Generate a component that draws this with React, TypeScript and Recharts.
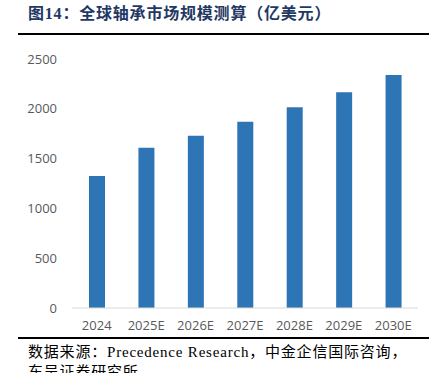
import React from "react";
import { BarChart, Bar, XAxis, YAxis, CartesianGrid } from "recharts";

const years = ["2024", "2025E", "2026E", "2027E", "2028E", "2029E", "2030E"];
const marketSize = [1325, 1610, 1730, 1870, 2015, 2165, 2340];
const yTicks = [0, 500, 1000, 1500, 2000, 2500];

const data = years.map((year, i) => ({ year, value: marketSize[i] }));

const tickStyle = { fill: "#595959", fontSize: 13, fontFamily: "'Open Sans', sans-serif" };

const App: React.FC = () => {
  return (
    <div
      style={{
        position: "absolute",
        left: 0,
        top: 0,
        width: 438,
        height: 373,
        overflow: "hidden",
        background: "#fff",
      }}
    >
      <div
        style={{
          position: "absolute",
          left: 28,
          top: 4,
          fontSize: 16,
          fontWeight: 700,
          color: "#1f3864",
          fontFamily: "'Liberation Serif', 'Noto Sans CJK SC', serif",
          whiteSpace: "nowrap",
          lineHeight: "20px",
          letterSpacing: 0.8,
        }}
      >
        图14：全球轴承市场规模测算（亿美元）
      </div>
      <div style={{ position: "absolute", left: 18, top: 33, width: 411, height: 2, background: "#000" }} />

      <div style={{ position: "absolute", left: 0, top: 40 }}>
        <BarChart
          width={438}
          height={300}
          data={data}
          margin={{ top: 19, right: 20, bottom: 2, left: 0 }}
          barSize={16}
        >
          <CartesianGrid vertical={false} horizontal={false} />
          <XAxis
            dataKey="year"
            height={30}
            tickLine={false}
            axisLine={{ stroke: "#d9d9d9" }}
            tick={tickStyle}
            tickMargin={7}
            interval={0}
          />
          <YAxis
            width={72}
            domain={[0, 2500]}
            ticks={yTicks}
            axisLine={false}
            tickLine={false}
            tick={tickStyle}
            tickMargin={9}
          />
          <Bar dataKey="value" fill="#2e75b6" isAnimationActive={false} />
        </BarChart>
      </div>

      <div style={{ position: "absolute", left: 18, top: 337, width: 411, height: 2, background: "#000" }} />
      <div
        style={{
          position: "absolute",
          left: 28,
          top: 342,
          fontSize: 15,
          color: "#000",
          fontFamily: "'Liberation Serif', 'Noto Sans CJK SC', serif",
          whiteSpace: "nowrap",
          lineHeight: "20px",
          letterSpacing: 0.8,
        }}
      >
        <div>数据来源：Precedence Research，中金企信国际咨询，</div>
        <div>东吴证券研究所</div>
      </div>
    </div>
  );
};

export default App;
